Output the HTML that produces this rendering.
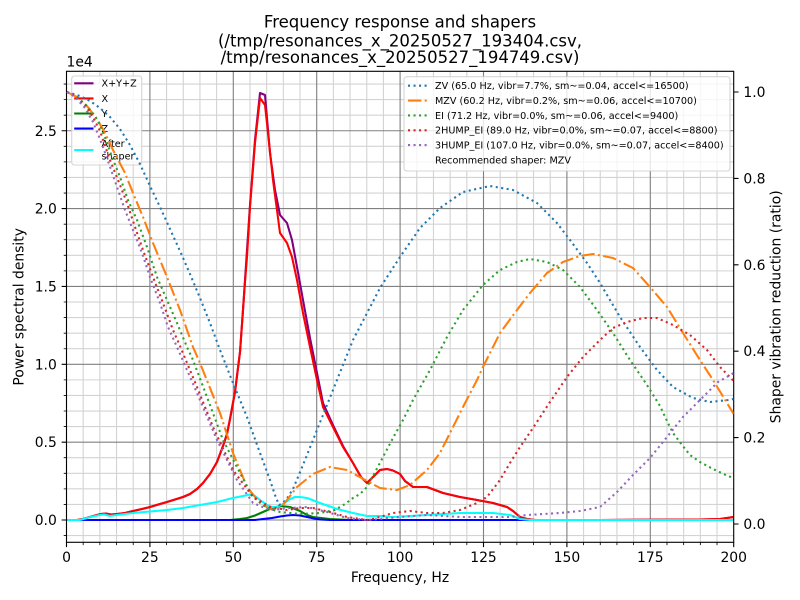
<!DOCTYPE html>
<html><head><meta charset="utf-8"><style>
html,body{margin:0;padding:0;background:#fff;}
svg{display:block;font-family:"DejaVu Sans","Liberation Sans",sans-serif;}
</style></head><body>
<svg width="800" height="600" viewBox="0 0 800 600" xmlns="http://www.w3.org/2000/svg">
<defs><clipPath id="ax"><rect x="66.5" y="71.3" width="667.2" height="471"/></clipPath></defs>
<rect width="800" height="600" fill="#fff"/>
<!-- title -->
<g font-size="16.5" text-anchor="middle" fill="#000">
<text x="400" y="27.5">Frequency response and shapers</text>
<text x="400" y="46.5">(/tmp/resonances_x_20250527_193404.csv,</text>
<text x="400" y="63">/tmp/resonances_x_20250527_194749.csv)</text>
</g>
<!-- grid minor -->
<path fill="none" stroke="#d3d3d3" stroke-width="1.11" d="M83.18 71.3V542.3M99.86 71.3V542.3M116.54 71.3V542.3M133.22 71.3V542.3M166.58 71.3V542.3M183.26 71.3V542.3M199.94 71.3V542.3M216.62 71.3V542.3M249.98 71.3V542.3M266.66 71.3V542.3M283.34 71.3V542.3M300.02 71.3V542.3M333.38 71.3V542.3M350.06 71.3V542.3M366.74 71.3V542.3M383.42 71.3V542.3M416.78 71.3V542.3M433.46 71.3V542.3M450.14 71.3V542.3M466.82 71.3V542.3M500.18 71.3V542.3M516.86 71.3V542.3M533.54 71.3V542.3M550.22 71.3V542.3M583.58 71.3V542.3M600.26 71.3V542.3M616.94 71.3V542.3M633.62 71.3V542.3M666.98 71.3V542.3M683.66 71.3V542.3M700.34 71.3V542.3M717.02 71.3V542.3
M66.5 535.57H733.7M66.5 504.43H733.7M66.5 488.86H733.7M66.5 473.29H733.7M66.5 457.72H733.7M66.5 426.58H733.7M66.5 411.01H733.7M66.5 395.44H733.7M66.5 379.87H733.7M66.5 348.73H733.7M66.5 333.16H733.7M66.5 317.59H733.7M66.5 302.02H733.7M66.5 270.88H733.7M66.5 255.31H733.7M66.5 239.74H733.7M66.5 224.17H733.7M66.5 193.03H733.7M66.5 177.46H733.7M66.5 161.89H733.7M66.5 146.32H733.7M66.5 115.18H733.7M66.5 99.61H733.7M66.5 84.04H733.7"/>
<!-- grid major -->
<path fill="none" stroke="#808080" stroke-width="1.11" d="M149.9 71.3V542.3M233.3 71.3V542.3M316.7 71.3V542.3M400.1 71.3V542.3M483.5 71.3V542.3M566.9 71.3V542.3M650.3 71.3V542.3M66.5 520H733.7M66.5 442.15H733.7M66.5 364.3H733.7M66.5 286.45H733.7M66.5 208.6H733.7M66.5 130.75H733.7"/>
<!-- PSD lines -->
<g clip-path="url(#ax)" fill="none" stroke-width="2.08" stroke-linejoin="round" stroke-linecap="square">
<polyline stroke="#800080" points="67,520 77,520 83,519 90,517 97,515 101,514 106,513.5 111,514.5 117,514 125,513 133,511 142,509 150,507 160,504 167,502 175,499.5 183,497 190,494 197,489 203,483 210,474 217,462 223,446 227,434 230,419 235,392 240,352 243,310 245,280 250,205 255,140 260,93 265,95 270,153 275,190 280,215 287,223 292,240 297,267 303,300 310,338 317,373 323,403 333,425 343,446 353,463 361,477 367,483 373,477 380,470 387,469 393,470.5 400,474 405,481 413,487 427,487 443,493 460,497 477,500 493,503 507,507 513,511 520,517 527,519 535,520 600,520 700,519.5 720,519 733.7,517"/>
<polyline stroke="#ff0000" points="67,520 77,520 83,519 90,517 97,515 101,514 106,513.5 111,514.5 117,514 125,513 133,511 142,509 150,507 160,504 167,502 175,499.5 183,497 190,494 197,489 203,483 210,474 217,462 223,446 227,434 230,419 235,392 240,352 243,310 245,282 247,257 250,207 255,143 260,98 265,105 268,133 273,180 280,233 287,243 292,257 297,280 303,313 310,347 317,380 323,407 333,427 343,447 353,463 361,477 367,483 373,477 380,470 387,469 393,470.5 400,474 405,481 413,487 427,487 443,493 460,497 477,500 493,503 507,507 513,511 520,517 527,519 535,520 600,520 700,519.5 720,519 733.7,517"/>
<polyline stroke="#008000" points="67,520 230,520 240,519 247,518 255,515.5 263,512 272,508 280,506 290,507 300,511 307,515 313,517 330,519 350,520 733.7,520"/>
<polyline stroke="#0000ff" points="67,520 255,520 263,519 272,518 280,516.5 287,515.5 293,515 300,515.5 307,517 314,518.5 320,519.5 330,520 733.7,520"/>
<polyline stroke="#00ffff" points="67,520 80,520 87,518 93,516.5 100,515 104,514.5 110,516 117,515 125,514 133,513 150,511.5 167,510 183,508 200,505 217,502 233,498 243,496 250,494.5 255,496 260,500 267,505 272,507 277,507 283,504 290,499 295,497 300,497 307,498 320,503 337,509 353,513 367,516 380,516 393,517 427,515 460,513 493,513 510,515 520,519 530,520 733.7,520"/>
</g>
<!-- left legend -->
<rect x="71.7" y="76" width="70" height="89" rx="2.8" fill="#fff" fill-opacity="0.8" stroke="#cccccc" stroke-opacity="0.8" stroke-width="1.11"/>
<g fill="none" stroke-width="2.08">
<line x1="74.2" y1="83.3" x2="93.5" y2="83.3" stroke="#800080"/>
<line x1="74.2" y1="98.4" x2="93.5" y2="98.4" stroke="#ff0000"/>
<line x1="74.2" y1="113.5" x2="93.5" y2="113.5" stroke="#008000"/>
<line x1="74.2" y1="128.6" x2="93.5" y2="128.6" stroke="#0000ff"/>
<line x1="74.2" y1="150" x2="93.5" y2="150" stroke="#00ffff"/>
</g>
<g font-size="9.64" fill="#000">
<text x="101.5" y="86.7">X+Y+Z</text>
<text x="101.5" y="101.8">X</text>
<text x="101.5" y="116.9">Y</text>
<text x="101.5" y="132">Z</text>
<text x="101.5" y="146.8">After</text>
<text x="101.5" y="159.6">shaper</text>
</g>
<!-- spines and ticks -->
<rect x="66.5" y="71.3" width="667.2" height="471" fill="none" stroke="#000" stroke-width="1.11"/>
<path fill="none" stroke="#000" stroke-width="0.83" d="M66.5 535.57h-2.78M66.5 504.43h-2.78M66.5 488.86h-2.78M66.5 473.29h-2.78M66.5 457.72h-2.78M66.5 426.58h-2.78M66.5 411.01h-2.78M66.5 395.44h-2.78M66.5 379.87h-2.78M66.5 348.73h-2.78M66.5 333.16h-2.78M66.5 317.59h-2.78M66.5 302.02h-2.78M66.5 270.88h-2.78M66.5 255.31h-2.78M66.5 239.74h-2.78M66.5 224.17h-2.78M66.5 193.03h-2.78M66.5 177.46h-2.78M66.5 161.89h-2.78M66.5 146.32h-2.78M66.5 115.18h-2.78M66.5 99.61h-2.78M66.5 84.04h-2.78
M83.18 542.3v2.78M99.86 542.3v2.78M116.54 542.3v2.78M133.22 542.3v2.78M166.58 542.3v2.78M183.26 542.3v2.78M199.94 542.3v2.78M216.62 542.3v2.78M249.98 542.3v2.78M266.66 542.3v2.78M283.34 542.3v2.78M300.02 542.3v2.78M333.38 542.3v2.78M350.06 542.3v2.78M366.74 542.3v2.78M383.42 542.3v2.78M416.78 542.3v2.78M433.46 542.3v2.78M450.14 542.3v2.78M466.82 542.3v2.78M500.18 542.3v2.78M516.86 542.3v2.78M533.54 542.3v2.78M550.22 542.3v2.78M583.58 542.3v2.78M600.26 542.3v2.78M616.94 542.3v2.78M633.62 542.3v2.78M666.98 542.3v2.78M683.66 542.3v2.78M700.34 542.3v2.78M717.02 542.3v2.78"/>
<path fill="none" stroke="#000" stroke-width="1.11" d="M66.5 520h-4.86M66.5 442.15h-4.86M66.5 364.3h-4.86M66.5 286.45h-4.86M66.5 208.6h-4.86M66.5 130.75h-4.86
M66.5 542.3v4.86M149.9 542.3v4.86M233.3 542.3v4.86M316.7 542.3v4.86M400.1 542.3v4.86M483.5 542.3v4.86M566.9 542.3v4.86M650.3 542.3v4.86M733.7 542.3v4.86
M733.7 524h4.86M733.7 437.6h4.86M733.7 351.2h4.86M733.7 264.8h4.86M733.7 178.4h4.86M733.7 92h4.86"/>
<!-- tick labels -->
<g font-size="13.9" fill="#000">
<g text-anchor="end">
<text x="56.8" y="525">0.0</text>
<text x="56.8" y="447.15">0.5</text>
<text x="56.8" y="369.3">1.0</text>
<text x="56.8" y="291.45">1.5</text>
<text x="56.8" y="213.6">2.0</text>
<text x="56.8" y="135.75">2.5</text>
</g>
<g text-anchor="middle">
<text x="66.5" y="562">0</text>
<text x="149.9" y="562">25</text>
<text x="233.3" y="562">50</text>
<text x="316.7" y="562">75</text>
<text x="400.1" y="562">100</text>
<text x="483.5" y="562">125</text>
<text x="566.9" y="562">150</text>
<text x="650.3" y="562">175</text>
<text x="733.7" y="562">200</text>
</g>
<g text-anchor="start">
<text x="743.4" y="529">0.0</text>
<text x="743.4" y="442.6">0.2</text>
<text x="743.4" y="356.2">0.4</text>
<text x="743.4" y="269.8">0.6</text>
<text x="743.4" y="183.4">0.8</text>
<text x="743.4" y="97">1.0</text>
</g>
<text x="66.5" y="66.7">1e4</text>
<text x="400" y="582" text-anchor="middle">Frequency, Hz</text>
<text x="23.5" y="306.8" text-anchor="middle" transform="rotate(-90 23.5 306.8)">Power spectral density</text>
<text x="780.5" y="306.8" text-anchor="middle" transform="rotate(-90 780.5 306.8)">Shaper vibration reduction (ratio)</text>
</g>
<!-- shaper curves (ax2) -->
<g clip-path="url(#ax)" fill="none" stroke-width="2.08" stroke-linejoin="round">
<polyline stroke="#1f77b4" stroke-dasharray="2.08 3.44" points="67,92 80,96 90,101 100,108 110,117 120,129 130,145 140,164 150,186 160,207 170,229 180,251 190,274 200,298 210,323 220,350 233,383 247,417 260,453 270,480 275,495 279,505 283,503 288,497 293,489 303,465 313,440 333,390 353,340 366,315 380,288 400,257 420,228 440,208 463,192 490,186 513,190 537,203 557,223 570,240 587,263 600,283 620,317 640,347 657,370 673,387 693,398 710,402 728,400 733.7,399"/>
<polyline stroke="#ff7f0e" stroke-dasharray="13.33 3.33 2.08 3.33" points="67,92 77,97 87,106 97,119 105,133 113,150 125,173 133,193 143,217 153,243 167,277 180,310 193,347 200,363 210,388 220,413 233,453 247,487 260,503 270,509 276,510 283,505 297,487 313,474 330,467 347,470 367,481 380,488 397,490 410,485 427,470 440,453 450,433 463,407 477,380 483,367 500,333 517,310 530,293 547,273 563,262 580,256 593,254 613,258 633,268 650,287 667,307 683,333 700,360 713,380 730,408 733.7,414"/>
<polyline stroke="#2ca02c" stroke-dasharray="2.08 3.44" points="67,92 77,97 87,106 95,116 100,125 106,140 112,157 120,177 128,200 137,220 147,247 157,277 167,300 177,323 187,347 193,360 207,397 223,440 240,473 253,497 267,508 280,512 300,514 320,513 335,510 345,504 353,498 360,494 367,487 373,476 383,457 393,438 403,420 413,400 430,370 447,337 463,310 483,285 500,270 517,262 530,259 547,262 563,270 580,287 597,310 613,333 630,360 647,385 660,406 668,423 673,433 682,445 690,455 700,462 713,469 728,476 733.7,478"/>
<polyline stroke="#d62728" stroke-dasharray="2.08 3.44" points="67,92 75,96 85,105 93,117 100,131 110,160 118,180 127,203 135,227 143,250 153,277 163,303 173,330 180,346 197,387 213,427 233,470 253,497 270,507 287,510 300,508 313,508 330,512 347,517 367,520 380,517 393,513 410,511 427,513 443,513 460,510 477,503 487,497 500,480 510,463 520,447 533,428 550,402 567,377 583,357 600,340 613,328 627,322 643,318 657,318 673,325 690,335 707,350 720,367 733.7,381"/>
<polyline stroke="#9467bd" stroke-dasharray="2.08 3.44" points="67,92 75,97 85,108 93,122 100,139 108,161 117,187 125,210 133,230 142,253 150,277 160,303 168,327 177,347 197,393 217,440 237,480 253,503 270,510 290,508 307,507 327,512 347,518 367,520 400,517 427,515 460,517 510,517 527,515 560,513 580,511 600,507 617,492 633,475 650,458 667,437 683,417 700,400 718,382 733.7,373"/>
</g>
<!-- right legend -->
<rect x="404" y="76.7" width="326" height="94.3" rx="2.8" fill="#fff" fill-opacity="0.8" stroke="#cccccc" stroke-opacity="0.8" stroke-width="1.11"/>
<g fill="none" stroke-width="2.08">
<line x1="408" y1="85.7" x2="427.3" y2="85.7" stroke="#1f77b4" stroke-dasharray="2.08 3.44"/>
<line x1="408" y1="100.6" x2="427.3" y2="100.6" stroke="#ff7f0e" stroke-dasharray="13.33 3.33 2.08 3.33"/>
<line x1="408" y1="115.4" x2="427.3" y2="115.4" stroke="#2ca02c" stroke-dasharray="2.08 3.44"/>
<line x1="408" y1="130.3" x2="427.3" y2="130.3" stroke="#d62728" stroke-dasharray="2.08 3.44"/>
<line x1="408" y1="145.1" x2="427.3" y2="145.1" stroke="#9467bd" stroke-dasharray="2.08 3.44"/>
</g>
<g font-size="9.64" fill="#000">
<text x="435" y="89.1">ZV (65.0 Hz, vibr=7.7%, sm~=0.04, accel&lt;=16500)</text>
<text x="435" y="104">MZV (60.2 Hz, vibr=0.2%, sm~=0.06, accel&lt;=10700)</text>
<text x="435" y="118.8">EI (71.2 Hz, vibr=0.0%, sm~=0.06, accel&lt;=9400)</text>
<text x="435" y="133.7">2HUMP_EI (89.0 Hz, vibr=0.0%, sm~=0.07, accel&lt;=8800)</text>
<text x="435" y="148.5">3HUMP_EI (107.0 Hz, vibr=0.0%, sm~=0.07, accel&lt;=8400)</text>
<text x="435" y="163.4">Recommended shaper: MZV</text>
</g>
</svg>
</body></html>
